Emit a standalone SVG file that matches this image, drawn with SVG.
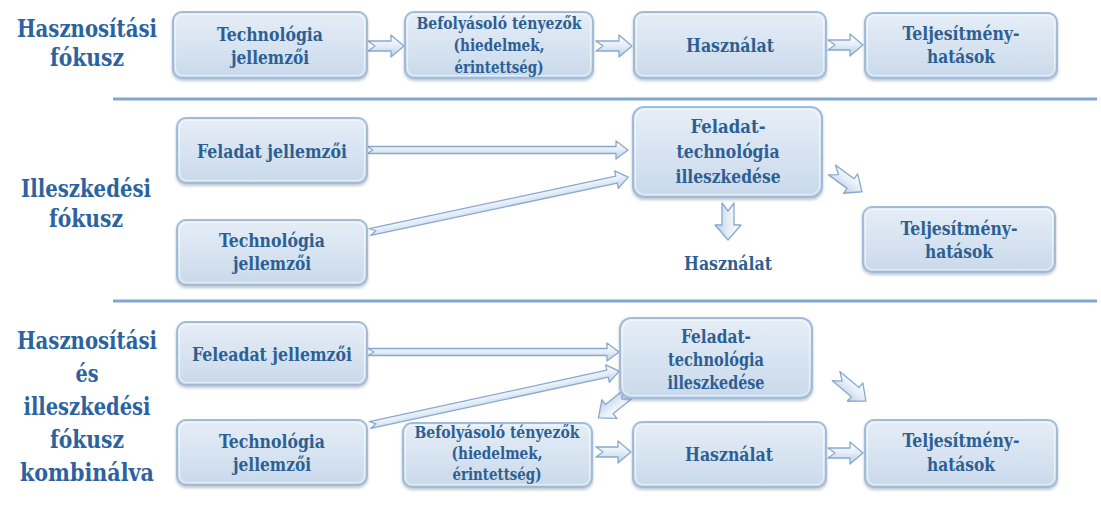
<svg xmlns="http://www.w3.org/2000/svg" width="1101" height="517" viewBox="0 0 1101 517">
  <defs>
    <linearGradient id="boxFill" x1="0" y1="0" x2="0" y2="1">
      <stop offset="0" stop-color="#E6EEF7"/>
      <stop offset="1" stop-color="#C9D9EB"/>
    </linearGradient>
    <linearGradient id="arrowFill" x1="0" y1="0" x2="0" y2="1">
      <stop offset="0" stop-color="#FFFFFF"/>
      <stop offset="0.5" stop-color="#E4EDF7"/>
      <stop offset="1" stop-color="#B9CEE6"/>
    </linearGradient>
    <filter id="shadow" x="-10%" y="-10%" width="120%" height="130%">
      <feDropShadow dx="0" dy="2" stdDeviation="1.8" flood-color="#6E8297" flood-opacity="0.45"/>
    </filter>
  </defs>
  <style>
    .box { fill: url(#boxFill); stroke: #A2BCD8; stroke-width: 2; filter: url(#shadow); }
    .inner { fill: none; stroke: #FFFFFF; stroke-opacity: 0.55; stroke-width: 1.2; }
    .arrow { fill: url(#arrowFill); stroke: #88A9CF; stroke-width: 1.3; stroke-linejoin: round; }
    .sep { stroke: #82A7CE; stroke-width: 3; }
    text { font-family: "DejaVu Serif Condensed", "DejaVu Serif", serif; font-stretch: condensed; font-weight: bold; text-anchor: middle; }
    .t { fill: #2D5F93; font-size: 18px; }
    .s { font-size: 16.5px; }
    .m { font-size: 19px; }
    .title { fill: #2B63A0; font-size: 23.5px; }
  </style>

  <rect width="1101" height="517" fill="#FFFFFF"/>

  <!-- section separators -->
  <line class="sep" x1="113" y1="99" x2="1097" y2="99"/>
  <line class="sep" x1="113" y1="301" x2="1097" y2="301"/>

  <!-- section titles -->
  <g id="title-usage">
    <text class="title" x="87" y="37" textLength="140" lengthAdjust="spacingAndGlyphs">Hasznosítási</text>
    <text class="title" x="87" y="66" textLength="74" lengthAdjust="spacingAndGlyphs">fókusz</text>
  </g>
  <g id="title-fit">
    <text class="title" x="86" y="197" textLength="130" lengthAdjust="spacingAndGlyphs">Illeszkedési</text>
    <text class="title" x="86" y="227" textLength="74" lengthAdjust="spacingAndGlyphs">fókusz</text>
  </g>
  <g id="title-combined">
    <text class="title" x="87" y="349" textLength="140" lengthAdjust="spacingAndGlyphs">Hasznosítási</text>
    <text class="title" x="87" y="382" textLength="23" lengthAdjust="spacingAndGlyphs">és</text>
    <text class="title" x="87" y="415" textLength="127" lengthAdjust="spacingAndGlyphs">illeszkedési</text>
    <text class="title" x="87" y="448" textLength="74" lengthAdjust="spacingAndGlyphs">fókusz</text>
    <text class="title" x="87" y="481" textLength="134" lengthAdjust="spacingAndGlyphs">kombinálva</text>
  </g>

  <!-- connectors -->
  <g id="connectors">
    <!-- usage focus row -->
    <polygon class="arrow" transform="translate(368,46)" points="0,-5 23,-5 23,-11 36,0 23,11 23,5 0,5 7,0"/>
    <polygon class="arrow" transform="translate(596,46)" points="0,-5 23,-5 23,-11 36,0 23,11 23,5 0,5 7,0"/>
    <polygon class="arrow" transform="translate(828,45)" points="0,-5 22,-5 22,-11 35,0 22,11 22,5 0,5 7,0"/>
    <!-- fit focus row -->
    <polygon class="arrow" transform="translate(367,150)" points="0,-3.5 249,-3.5 249,-9 261,0 249,9 249,3.5 0,3.5 6,0"/>
    <polygon class="arrow" transform="translate(370,232) rotate(-12)" points="0,-3.5 252,-3.5 252,-9 264,0 252,9 252,3.5 0,3.5 6,0"/>
    <polygon class="arrow" transform="translate(728,203) rotate(90)" points="0,-6 22,-6 22,-13 37,0 22,13 22,6 0,6 8,0"/>
    <polygon class="arrow" transform="translate(832,170) rotate(36)" points="0,-6 23,-6 23,-12 37,0 23,12 23,6 0,6 8,0"/>
    <!-- combined row -->
    <polygon class="arrow" transform="translate(368,352)" points="0,-3.5 239,-3.5 239,-9 251,0 239,9 239,3.5 0,3.5 6,0"/>
    <polygon class="arrow" transform="translate(370,425) rotate(-12.2)" points="0,-3.5 243,-3.5 243,-9 255,0 243,9 243,3.5 0,3.5 6,0"/>
    <polygon class="arrow" transform="translate(628,394) rotate(141)" points="0,-6 24,-6 24,-12 38,0 24,12 24,6 0,6 8,0"/>
    <polygon class="arrow" transform="translate(596,452)" points="0,-5 22,-5 22,-11 35,0 22,11 22,5 0,5 7,0"/>
    <polygon class="arrow" transform="translate(828,453)" points="0,-5 22,-5 22,-11 35,0 22,11 22,5 0,5 7,0"/>
    <polygon class="arrow" transform="translate(836,376) rotate(40)" points="0,-6 25,-6 25,-12 39,0 25,12 25,6 0,6 8,0"/>
  </g>

  <!-- usage focus row -->
  <g id="u-tech">
    <rect class="box" x="173" y="12" width="194" height="66" rx="9"/>
    <rect class="inner" x="175.5" y="14.5" width="189" height="61" rx="7"/>
    <text class="t" x="270" y="41" textLength="106" lengthAdjust="spacingAndGlyphs">Technológia</text>
    <text class="t" x="270" y="64" textLength="78" lengthAdjust="spacingAndGlyphs">jellemzői</text>
  </g>
  <g id="u-factors">
    <rect class="box" x="405" y="12" width="188" height="66" rx="9"/>
    <rect class="inner" x="407.5" y="14.5" width="183" height="61" rx="7"/>
    <text class="t s" x="499" y="29" textLength="165" lengthAdjust="spacingAndGlyphs">Befolyásoló tényezők</text>
    <text class="t s" x="499" y="51" textLength="91" lengthAdjust="spacingAndGlyphs">(hiedelmek,</text>
    <text class="t s" x="499" y="73" textLength="89" lengthAdjust="spacingAndGlyphs">érintettség)</text>
  </g>
  <g id="u-use">
    <rect class="box" x="634" y="12" width="192" height="66" rx="9"/>
    <rect class="inner" x="636.5" y="14.5" width="187" height="61" rx="7"/>
    <text class="t" x="730" y="52" textLength="88" lengthAdjust="spacingAndGlyphs">Használat</text>
  </g>
  <g id="u-perf">
    <rect class="box" x="865" y="13" width="192" height="65" rx="9"/>
    <rect class="inner" x="867.5" y="15.5" width="187" height="60" rx="7"/>
    <text class="t" x="961" y="40" textLength="117" lengthAdjust="spacingAndGlyphs">Teljesítmény-</text>
    <text class="t" x="961" y="63" textLength="68" lengthAdjust="spacingAndGlyphs">hatások</text>
  </g>

  <!-- fit focus row -->
  <g id="f-task">
    <rect class="box" x="177" y="118" width="190" height="65" rx="9"/>
    <rect class="inner" x="179.5" y="120.5" width="185" height="60" rx="7"/>
    <text class="t" x="272" y="158" textLength="150" lengthAdjust="spacingAndGlyphs">Feladat jellemzői</text>
  </g>
  <g id="f-tech">
    <rect class="box" x="177" y="220" width="190" height="65" rx="9"/>
    <rect class="inner" x="179.5" y="222.5" width="185" height="60" rx="7"/>
    <text class="t" x="272" y="247" textLength="106" lengthAdjust="spacingAndGlyphs">Technológia</text>
    <text class="t" x="272" y="270" textLength="78" lengthAdjust="spacingAndGlyphs">jellemzői</text>
  </g>
  <g id="f-fit">
    <rect class="box" x="633" y="107" width="189" height="90" rx="11"/>
    <rect class="inner" x="635.5" y="109.5" width="184" height="85" rx="9"/>
    <text class="t m" x="728" y="133" textLength="75" lengthAdjust="spacingAndGlyphs">Feladat-</text>
    <text class="t m" x="728" y="158" textLength="103" lengthAdjust="spacingAndGlyphs">technológia</text>
    <text class="t m" x="728" y="183" textLength="105" lengthAdjust="spacingAndGlyphs">illeszkedése</text>
  </g>
  <g id="f-use">
    <text class="t" x="728" y="270" textLength="88" lengthAdjust="spacingAndGlyphs">Használat</text>
  </g>
  <g id="f-perf">
    <rect class="box" x="863" y="207" width="192" height="65" rx="9"/>
    <rect class="inner" x="865.5" y="209.5" width="187" height="60" rx="7"/>
    <text class="t" x="959" y="235" textLength="117" lengthAdjust="spacingAndGlyphs">Teljesítmény-</text>
    <text class="t" x="959" y="258" textLength="68" lengthAdjust="spacingAndGlyphs">hatások</text>
  </g>

  <!-- combined row -->
  <g id="c-task">
    <rect class="box" x="177" y="322" width="190" height="63" rx="9"/>
    <rect class="inner" x="179.5" y="324.5" width="185" height="58" rx="7"/>
    <text class="t" x="272" y="361" textLength="160" lengthAdjust="spacingAndGlyphs">Feleadat jellemzői</text>
  </g>
  <g id="c-tech">
    <rect class="box" x="177" y="420" width="190" height="65" rx="9"/>
    <rect class="inner" x="179.5" y="422.5" width="185" height="60" rx="7"/>
    <text class="t" x="272" y="448" textLength="106" lengthAdjust="spacingAndGlyphs">Technológia</text>
    <text class="t" x="272" y="471" textLength="78" lengthAdjust="spacingAndGlyphs">jellemzői</text>
  </g>
  <g id="c-fit">
    <rect class="box" x="620" y="318" width="192" height="80" rx="11"/>
    <rect class="inner" x="622.5" y="320.5" width="187" height="75" rx="9"/>
    <text class="t" x="716" y="343" textLength="70" lengthAdjust="spacingAndGlyphs">Feladat-</text>
    <text class="t" x="716" y="366" textLength="96" lengthAdjust="spacingAndGlyphs">technológia</text>
    <text class="t" x="716" y="389" textLength="97" lengthAdjust="spacingAndGlyphs">illeszkedése</text>
  </g>
  <g id="c-factors">
    <rect class="box" x="403" y="423" width="189" height="64" rx="9"/>
    <rect class="inner" x="405.5" y="425.5" width="184" height="59" rx="7"/>
    <text class="t s" x="497" y="438" textLength="165" lengthAdjust="spacingAndGlyphs">Befolyásoló tényezők</text>
    <text class="t s" x="497" y="459" textLength="91" lengthAdjust="spacingAndGlyphs">(hiedelmek,</text>
    <text class="t s" x="497" y="480" textLength="89" lengthAdjust="spacingAndGlyphs">érintettség)</text>
  </g>
  <g id="c-use">
    <rect class="box" x="633" y="422" width="193" height="65" rx="9"/>
    <rect class="inner" x="635.5" y="424.5" width="188" height="60" rx="7"/>
    <text class="t" x="729" y="461" textLength="88" lengthAdjust="spacingAndGlyphs">Használat</text>
  </g>
  <g id="c-perf">
    <rect class="box" x="865" y="420" width="192" height="67" rx="9"/>
    <rect class="inner" x="867.5" y="422.5" width="187" height="62" rx="7"/>
    <text class="t" x="961" y="447" textLength="117" lengthAdjust="spacingAndGlyphs">Teljesítmény-</text>
    <text class="t" x="961" y="471" textLength="68" lengthAdjust="spacingAndGlyphs">hatások</text>
  </g>
</svg>
